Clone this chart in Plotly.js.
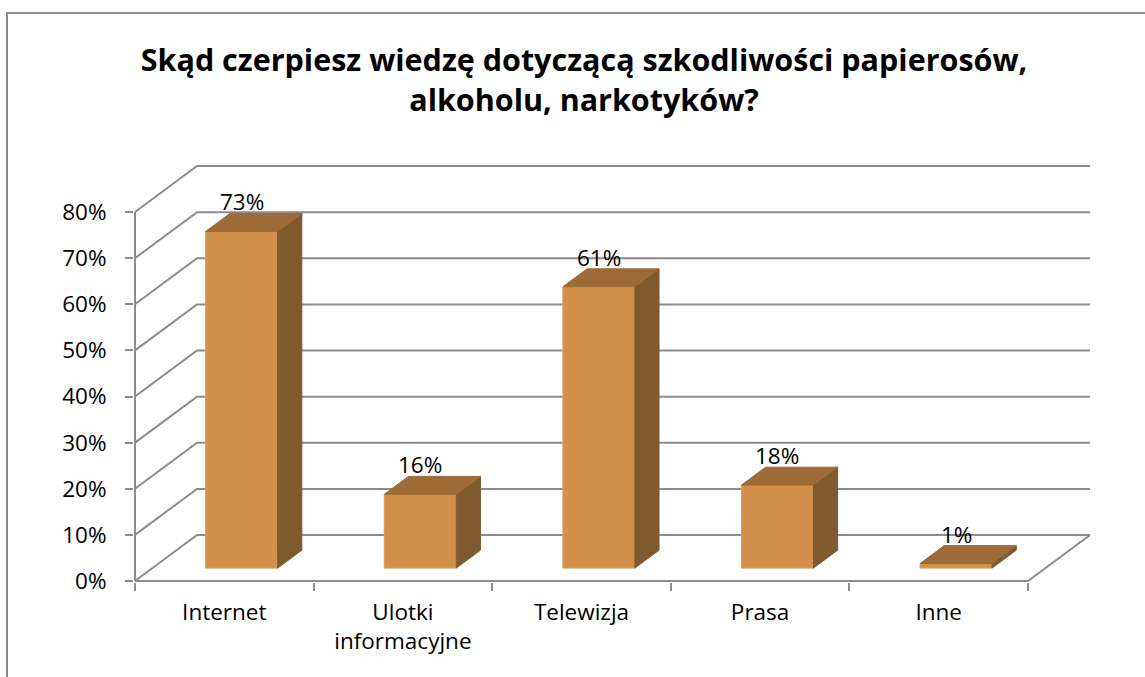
<!DOCTYPE html>
<html>
<head>
<meta charset="utf-8">
<script src="https://cdn.plot.ly/plotly-3.0.1.min.js"></script>
<style>
  html, body { margin: 0; padding: 0; background: #ffffff; }
  #wrap { position: relative; width: 1145px; height: 677px; overflow: hidden; }
  #chart { width: 1145px; height: 677px; }
  #frame { position: absolute; left: 6px; top: 12px; width: 1200px; height: 700px;
           border-left: 2px solid #8c8c8c; border-top: 2px solid #8c8c8c; pointer-events: none; }
</style>
</head>
<body>
<div id="wrap">
  <div id="chart"></div>
  <div id="frame"></div>
</div>
<script>
// ---- data ----
const categories = ["Internet", "Ulotki<br>informacyjne", "Telewizja", "Prasa", "Inne"];
const values = [73, 16, 61, 18, 1];           // percent
const yTicks = [0, 10, 20, 30, 40, 50, 60, 70, 80];
const yTickText = ["0%", "10%", "20%", "30%", "40%", "50%", "60%", "70%", "80%"];
const titleText = "Skąd czerpiesz wiedzę dotyczącą szkodliwości papierosów,<br>alkoholu, narkotyków?";

// ---- geometry (pixel layout of the 3D box) ----
const W_PX = 1145, H_PX = 677;
const X_FRONT_L = 135, X_FRONT_R = 1028;   // front floor edge
const Y_ZERO = 581, Y_80 = 212;             // front axis 0% and 80%
const DEPTH_DX = 62, DEPTH_DY = 46;         // back-wall offset in px
const PLOT_L = 134, PLOT_R = 1092, PLOT_T = 164, PLOT_B = 582;

const pxPerX = (X_FRONT_R - X_FRONT_L) / categories.length;
const pxPerY = (Y_ZERO - Y_80) / 80;
const D = DEPTH_DX / pxPerX;      // depth in x units
const DY = DEPTH_DY / pxPerY;     // depth in y units
const xMin = -0.5, xMax = categories.length - 0.5;

const xRange = [xMin - (X_FRONT_L - PLOT_L) / pxPerX, xMax + (PLOT_R - X_FRONT_R) / pxPerX];
const yRange = [-(PLOT_B - Y_ZERO) / pxPerY, (Y_ZERO - PLOT_T) / pxPerY];

const BAR_W = 72 / pxPerX;   // bar width in x units
const F1 = 0.28;             // bar front plane depth fraction
const S = 0.39;              // bar depth fraction

const GRID = "#8c8c8c";
const C_FRONT = "#d3904b", C_TOP = "#9d6b38", C_SIDE = "#7f5a2f";

const traces = [];

// back wall + left wall grid lines, floor and axis line
const gx = [], gy = [];
yTicks.forEach(t => {
  gx.push(xMin, xMin + D, xMax + D, null);
  gy.push(t, t + DY, t + DY, null);
});
gx.push(xMin, xMax, xMax + D, null);
gy.push(0, 0, DY, null);
gx.push(xMin, xMin);
gy.push(0, yTicks[yTicks.length - 1]);
traces.push({
  type: "scatter", mode: "lines", x: gx, y: gy,
  line: { color: GRID, width: 2 }, hoverinfo: "skip", showlegend: false, xaxis: "x", yaxis: "y"
});

// bars as 3D prisms
values.forEach((v, i) => {
  const xl = i - BAR_W / 2 + F1 * D, xr = xl + BAR_W;
  const yb = F1 * DY, yt = v + F1 * DY;
  const sx = S * D, sy = S * DY;
  const faces = [
    { x: [xl, xr, xr, xl, xl], y: [yb, yb, yt, yt, yb], c: C_FRONT, lc: "#dc9d5e" },
    { x: [xr, xr + sx, xr + sx, xr, xr], y: [yb, yb + sy, yt + sy, yt, yb], c: C_SIDE, lc: C_SIDE },
    { x: [xl, xr, xr + sx, xl + sx, xl], y: [yt, yt, yt + sy, yt + sy, yt], c: C_TOP, lc: C_TOP }
  ];
  faces.forEach(f => traces.push({
    type: "scatter", mode: "lines", x: f.x, y: f.y, fill: "toself",
    fillcolor: f.c, line: { color: f.lc, width: 1 },
    hoverinfo: "skip", showlegend: false, xaxis: "x", yaxis: "y"
  }));
});

// invisible trace for the label axis
traces.push({
  type: "scatter", mode: "markers", x: [0], y: [0], marker: { opacity: 0 },
  hoverinfo: "skip", showlegend: false, xaxis: "x2", yaxis: "y"
});

const annotations = values.map((v, i) => ({
  x: i + F1 * D, y: v + (F1 + S) * DY, xref: "x", yref: "y",
  text: v + "%", showarrow: false, xanchor: "center", yanchor: "bottom", yshift: -6,
  font: { family: "Open Sans", size: 22.5, color: "#000000" }
}));

const boundaryTicks = [];
for (let k = 0; k <= categories.length; k++) boundaryTicks.push(k - 0.5);

const layout = {
  width: W_PX, height: H_PX,
  margin: { l: PLOT_L, r: W_PX - PLOT_R, t: PLOT_T, b: H_PX - PLOT_B, pad: 0 },
  paper_bgcolor: "#ffffff", plot_bgcolor: "rgba(0,0,0,0)",
  showlegend: false,
  title: {
    text: titleText, xref: "container", yref: "container",
    x: 584 / W_PX, xanchor: "center", y: 1 - 71 / H_PX, yanchor: "middle",
    font: { family: "Open Sans", size: 30.5, color: "#000000", weight: "bold" }
  },
  xaxis: {
    range: xRange, showgrid: false, zeroline: false, showline: false,
    tickmode: "array", tickvals: boundaryTicks, ticktext: boundaryTicks.map(() => ""),
    ticks: "outside", ticklen: 8, tickwidth: 2, tickcolor: GRID, fixedrange: true
  },
  xaxis2: {
    overlaying: "x", anchor: "y", side: "bottom", matches: "x",
    range: xRange, showgrid: false, zeroline: false, showline: false,
    tickmode: "array", tickvals: categories.map((c, i) => i), ticktext: categories,
    ticks: "", ticklabelstandoff: 14,
    tickfont: { family: "Open Sans", size: 22.5, color: "#000000" }, fixedrange: true
  },
  yaxis: {
    range: yRange, showgrid: false, zeroline: false, showline: false,
    tickmode: "array", tickvals: yTicks, ticktext: yTickText,
    ticks: "outside", ticklen: 8, tickwidth: 2, tickcolor: GRID, ticklabelstandoff: 14,
    tickfont: { family: "Open Sans", size: 22.5, color: "#000000" }, fixedrange: true
  },
  annotations: annotations
};

Plotly.newPlot("chart", traces, layout, { staticPlot: true, displayModeBar: false });
</script>
</body>
</html>
